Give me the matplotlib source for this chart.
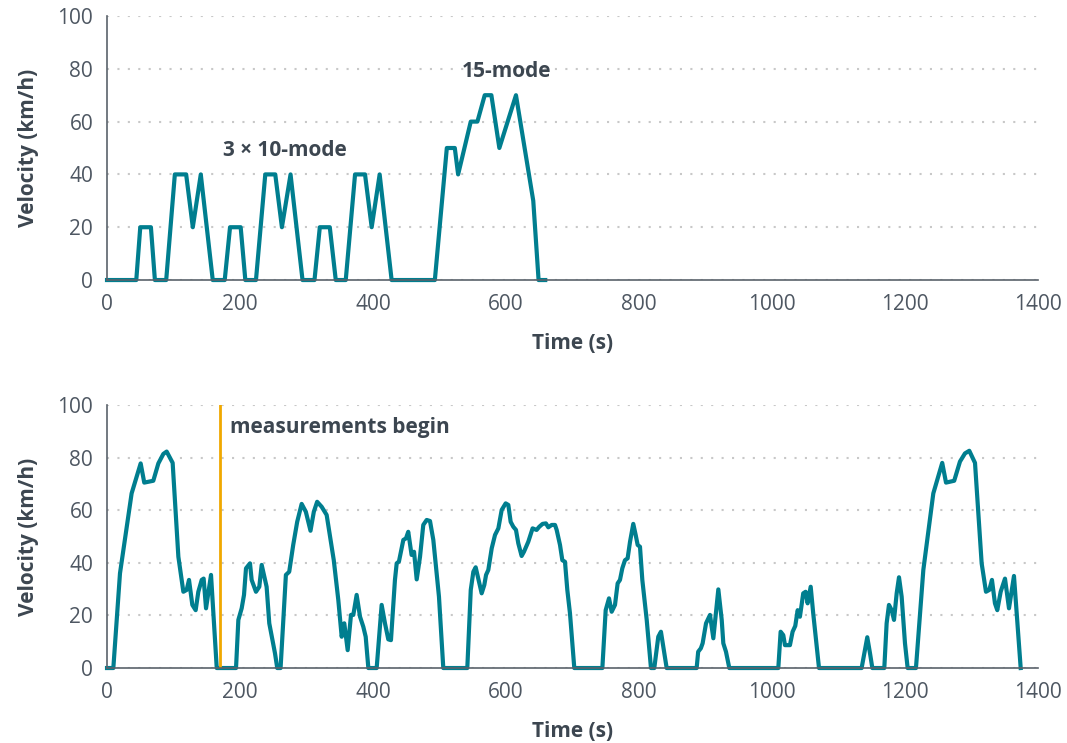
import matplotlib
matplotlib.use('Agg')
import matplotlib.pyplot as plt

# top: 3 x 10-mode + 15-mode
top_time = [0, 44, 50, 66, 72, 89, 102, 119, 129, 141, 159, 177, 185, 201, 208, 224,
            238, 253, 263, 276, 294, 312, 320, 335, 344, 359, 373, 388, 398, 410, 428,
            493, 511, 523, 528, 547, 557, 568, 578, 590, 615, 641, 649, 659]
top_speed = [0, 0, 20, 20, 0, 0, 40, 40, 20, 40, 0, 0, 20, 20, 0, 0,
             40, 40, 20, 40, 0, 0, 20, 20, 0, 0, 40, 40, 20, 40, 0,
             0, 50, 50, 40, 60, 60, 70, 70, 50, 70, 30, 0, 0]

# bottom: JC08 with warm-up tail before measurements
bot_time = [0, 9.5, 19.5, 37, 50.6, 56, 69.6, 77.2, 84.7, 89.7, 98.7, 107.3, 114.8, 119.8,
            123.3, 128.3, 133.3, 137.3, 142.4, 145.3, 148.9, 156.4, 165,
            194, 197.5, 202.5, 206, 209, 215, 217.5, 224, 229, 232.6, 240, 244, 252.6, 256,
            261, 269, 274, 280, 286, 292.7, 299, 306, 311, 316, 322.8, 330.3, 341, 347.8,
            352.9, 356.8, 361.9, 366.9, 370.4, 375.4, 380.5, 385.4, 389, 393, 405.5, 413,
            418, 423, 427, 433, 435.6, 439, 445.6, 449.6, 453, 458, 461.7, 465.7, 470.7,
            475.6, 480.7, 485.7, 490.7, 499.2, 505.7,
            541.8, 547, 550.9, 554.4, 559.9, 563.4, 567.4, 570, 573.4, 578.5, 583.5, 588.5,
            593.5, 599.5, 603.5, 607, 611, 615, 618.5, 623.5, 627, 633.5, 640, 646, 650,
            655, 660, 663.6, 668.7, 673.7, 676.2, 681.2, 684.7, 688.7, 692.2, 696.2, 702.7,
            744.9, 749.9, 754.9, 758.9, 763.9, 767.9, 771.4, 774.9, 778.9, 782.9, 786.5,
            791.4, 795, 798, 801.5, 805, 811.6, 818, 823, 829, 833, 841.6,
            886.7, 889, 893, 895.7, 900.8, 906.8, 911.8, 919.3, 924.4, 926.8, 930.8, 935.8,
            1009.5, 1013, 1017, 1019.5, 1027, 1031, 1035, 1038.6, 1042, 1047, 1050.6,
            1053.6, 1058.2, 1062, 1070.7,
            1134.8, 1138.3, 1143.3, 1147.4, 1150.9, 1168.9, 1172.4, 1175.9, 1180, 1183.5,
            1187.5, 1191, 1195, 1200, 1204,
            1216.5, 1227.6, 1242.6, 1256, 1261.7, 1274, 1282.7, 1290.2, 1296.7, 1305.3,
            1315.3, 1321.8, 1326.8, 1330.8, 1335.3, 1338.8, 1343.9, 1350.4, 1356.4, 1363.9,
            1374]
bot_speed = [0, 0, 36, 66.4, 77.8, 70.5, 71.2, 77.8, 81.4, 82.3, 78, 42.3, 29, 29.7,
             33.5, 24, 22, 29, 33.5, 34, 22.7, 35.4, 0,
             0, 18.3, 22.7, 27.8, 37.9, 39.8, 33.5, 29, 30.9, 39.2, 30.9, 17, 5.6, 0,
             0, 35.4, 36.6, 46.8, 55.6, 62.4, 59.4, 52.2, 59.4, 63.2, 61.3, 58.2, 41, 25.9,
             11.9, 17, 6.8, 20.2, 20.2, 27.8, 19.5, 15.7, 11.9, 0, 0, 24,
             17, 10.9, 10.6, 33.5, 39.8, 40.5, 48.7, 49.3, 51.8, 43, 44.2, 33.7, 42.3,
             54.4, 56.3, 55.9, 48.7, 27.1, 0,
             0, 29.7, 36.6, 38.3, 32.2, 28.4, 31.6, 35.4, 37.3, 45.5, 50.6, 53.1,
             60.1, 62.6, 62, 55.6, 53.7, 52.5, 47.4, 42.6, 44.2, 48, 53.1, 52.5, 53.7,
             54.8, 55, 53.5, 54.4, 54.4, 52.5, 46.8, 41, 40.4, 29.7, 20.8, 0,
             0, 22, 26.5, 21.4, 24, 32.2, 33.5, 37.9, 41, 41.7, 48,
             54.8, 50.6, 46.8, 46.1, 33.5, 18.3, 0, 0, 11.9, 13.8, 0,
             0, 6.2, 7.5, 9.4, 17, 20.2, 11.3, 29.9, 18.3, 9.4, 6.2, 0,
             0, 13.8, 12.5, 8.7, 8.7, 13.8, 16, 22, 19.5, 28.4, 29,
             24.6, 30.9, 20.8, 0,
             0, 4.9, 11.7, 5.6, 0, 0, 17, 24, 22, 18.3,
             28.4, 34.5, 27.1, 9.4, 0,
             0, 37.3, 66.4, 78, 70.5, 71.2, 78.5, 81.6, 82.6, 78,
             39.8, 29, 29.7, 33.5, 24.6, 22, 29, 34, 22.7, 35,
             0]

measure_start = 170

line_color = '#007e8f'
text_color = '#3c4650'
tick_color = '#4e5762'
grid_color = '#c8c8c8'

plt.rcParams['font.family'] = ['Open Sans', 'DejaVu Sans']

fig = plt.figure(figsize=(10.67, 7.43), dpi=100)
ax1 = fig.add_axes([0.1003, 0.6231, 0.8725, 0.3554])
ax2 = fig.add_axes([0.1003, 0.1009, 0.8725, 0.354])


def style_axis(ax):
    ax.set_xlim(0, 1400)
    ax.set_ylim(0, 100)
    ax.set_xticks(range(0, 1401, 200))
    ax.set_yticks(range(0, 101, 20))
    ax.tick_params(length=0, labelsize=15, colors=tick_color, pad=10)
    ax.tick_params(axis='x', pad=10)
    for side in ['top', 'right']:
        ax.spines[side].set_visible(False)
    for side in ['left', 'bottom']:
        ax.spines[side].set_color('#5a626b')
        ax.spines[side].set_linewidth(1.2)
    ax.grid(axis='y', linestyle=(0, (1, 4)), color=grid_color, linewidth=1.5)
    ax.set_axisbelow(True)
    ax.set_xlabel('Time (s)', fontsize=15, fontweight='bold', color=text_color, labelpad=13)
    ax.set_ylabel('Velocity (km/h)', fontsize=15, fontweight='bold', color=text_color, labelpad=13)


ax1.plot(top_time, top_speed, color=line_color, linewidth=3, solid_joinstyle='round', clip_on=False)
style_axis(ax1)
ax1.text(268, 49, '3 \u00d7 10-mode', fontsize=15, fontweight='bold', color=text_color,
         ha='center', va='center')
ax1.text(601, 79, '15-mode', fontsize=15, fontweight='bold', color=text_color,
         ha='center', va='center')

ax2.plot(bot_time, bot_speed, color=line_color, linewidth=3, solid_joinstyle='round', clip_on=False)
ax2.axvline(measure_start, color='#f0a800', linewidth=2)
style_axis(ax2)
ax2.text(185, 91.5, 'measurements begin', fontsize=15, fontweight='bold',
         color=text_color, ha='left', va='center')

fig.savefig('out.png', dpi=100)
